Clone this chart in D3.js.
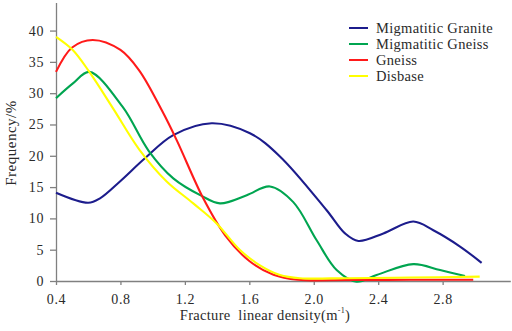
<!DOCTYPE html>
<html>
<head>
<meta charset="utf-8">
<script src="https://cdn.jsdelivr.net/npm/d3@7"></script>
<style>
  html, body { margin: 0; padding: 0; background: #fff; }
  svg { display: block; }
  svg text { font-family: "Times New Roman", "Liberation Serif", "DejaVu Serif", serif !important; fill: #2a2a2a; }
</style>
</head>
<body>
<svg id="chart" width="512" height="331"></svg>
<script>
// ---- data ----
const seriesNames = ["Migmatitic Granite", "Migmatitic Gneiss", "Gneiss", "Disbase"];
const seriesColors = ["#1c1c8c", "#00a550", "#ff1a1a", "#ffff00"];

const graniteX = [0.4, 0.6, 0.673, 0.797, 0.952, 1.128, 1.366, 1.604, 1.79, 2.08, 2.194, 2.277, 2.432, 2.618, 2.742, 2.908, 3.042];
const graniteY = [14.1, 12.5, 13.2, 15.9, 19.6, 23.3, 25.2, 23.6, 19.9, 11.3, 7.6, 6.4, 7.6, 9.5, 8.1, 5.5, 2.9];

const gneissMX = [0.4, 0.507, 0.607, 0.814, 0.975, 1.128, 1.304, 1.418, 1.584, 1.728, 1.873, 2.018, 2.142, 2.265, 2.39, 2.618, 2.784, 2.939];
const gneissMY = [29.2, 31.6, 33.4, 27.8, 20.8, 16.4, 13.6, 12.4, 13.7, 15.1, 12.6, 6.5, 1.75, -0.1, 0.96, 2.7, 1.75, 0.8];

const gneissX = [0.4, 0.5, 0.628, 0.8, 0.917, 1.056, 1.149, 1.314, 1.45, 1.6, 1.75, 1.9, 2.2, 2.6, 2.99];
const gneissY = [33.4, 37.3, 38.5, 36.9, 33.6, 27.3, 22.5, 13.2, 7.3, 3.2, 1.0, 0.2, 0.15, 0.2, 0.2];

const diabaseX = [0.4, 0.504, 0.607, 0.756, 0.917, 1.087, 1.252, 1.397, 1.542, 1.666, 1.79, 1.914, 2.2, 2.6, 3.03];
const diabaseY = [39.0, 36.9, 33.4, 27.5, 21.0, 15.9, 12.4, 9.2, 4.95, 2.5, 0.96, 0.45, 0.45, 0.55, 0.7];

const xTicks = [0.4, 0.8, 1.2, 1.6, 2.0, 2.4, 2.8];
const yTicks = [0, 5, 10, 15, 20, 25, 30, 35, 40];

const seriesX = [graniteX, gneissMX, gneissX, diabaseX];
const seriesY = [graniteY, gneissMY, gneissY, diabaseY];

// ---- chart ----
const FONT = "'Times New Roman', 'Liberation Serif', 'DejaVu Serif', serif";
const svg = d3.select("#chart");
const x = d3.scaleLinear().domain([0.4, 3.22]).range([56, 510.3]);
const y = d3.scaleLinear().domain([0, 44.5]).range([281, 2.4]);

const axisColor = "#808080";

// x axis
const xa = svg.append("g").attr("transform", "translate(0,281)")
  .call(d3.axisBottom(x).tickValues(xTicks).tickFormat(d3.format(".1f")).tickSizeInner(4).tickSizeOuter(0).tickPadding(9));
xa.attr("font-family", FONT);
xa.select(".domain").attr("stroke", axisColor).attr("stroke-width", 1.3);
xa.selectAll(".tick line").attr("stroke", axisColor).attr("stroke-width", 1.3);
xa.selectAll(".tick text").attr("font-size", 14).attr("fill", "#2a2a2a").attr("letter-spacing", "0.6px");

// y axis
const ya = svg.append("g").attr("transform", "translate(56,0)")
  .call(d3.axisLeft(y).tickValues(yTicks).tickSizeInner(6).tickSizeOuter(0).tickPadding(6));
ya.attr("font-family", FONT);
ya.select(".domain").attr("stroke", axisColor).attr("stroke-width", 1.3);
ya.selectAll(".tick line").attr("stroke", axisColor).attr("stroke-width", 1.3);
ya.selectAll(".tick text").attr("font-size", 14).attr("fill", "#2a2a2a").attr("letter-spacing", "0.6px");

// lines
const line = d3.line().x(d => x(d[0])).y(d => y(d[1])).curve(d3.curveCatmullRom.alpha(0.5));
seriesNames.forEach((name, i) => {
  const pts = seriesX[i].map((v, j) => [v, seriesY[i][j]]);
  svg.append("path").datum(pts)
    .attr("d", line)
    .attr("fill", "none")
    .attr("stroke", seriesColors[i])
    .attr("stroke-width", 2.1)
    .attr("stroke-linejoin", "round")
    .attr("stroke-linecap", "butt");
});

// legend
const legendY = [28, 44, 60, 76];
seriesNames.forEach((name, i) => {
  const g = svg.append("g").attr("transform", `translate(349,${legendY[i]})`);
  g.append("line").attr("x1", 0).attr("x2", 19).attr("y1", 0).attr("y2", 0)
    .attr("stroke", seriesColors[i]).attr("stroke-width", 2);
  g.append("text").attr("x", 27).attr("y", 5).attr("font-family", FONT).attr("font-size", 14.5).attr("letter-spacing", "0.3px").text(name);
});

// axis titles
const xt = svg.append("text").attr("x", 265).attr("y", 320).attr("text-anchor", "middle")
  .attr("font-family", FONT).attr("font-size", 14.5).attr("letter-spacing", "0.3px");
xt.append("tspan").text("Fracture\u00a0\u00a0linear density(m");
xt.append("tspan").attr("font-size", 8).attr("dy", -7).text("-1");
xt.append("tspan").attr("dy", 7).text(")");

svg.append("text").attr("transform", "translate(16,143) rotate(-90)")
  .attr("text-anchor", "middle").attr("font-family", FONT).attr("font-size", 15).attr("letter-spacing", "0.5px")
  .text("Frequency/%");
</script>
</body>
</html>
